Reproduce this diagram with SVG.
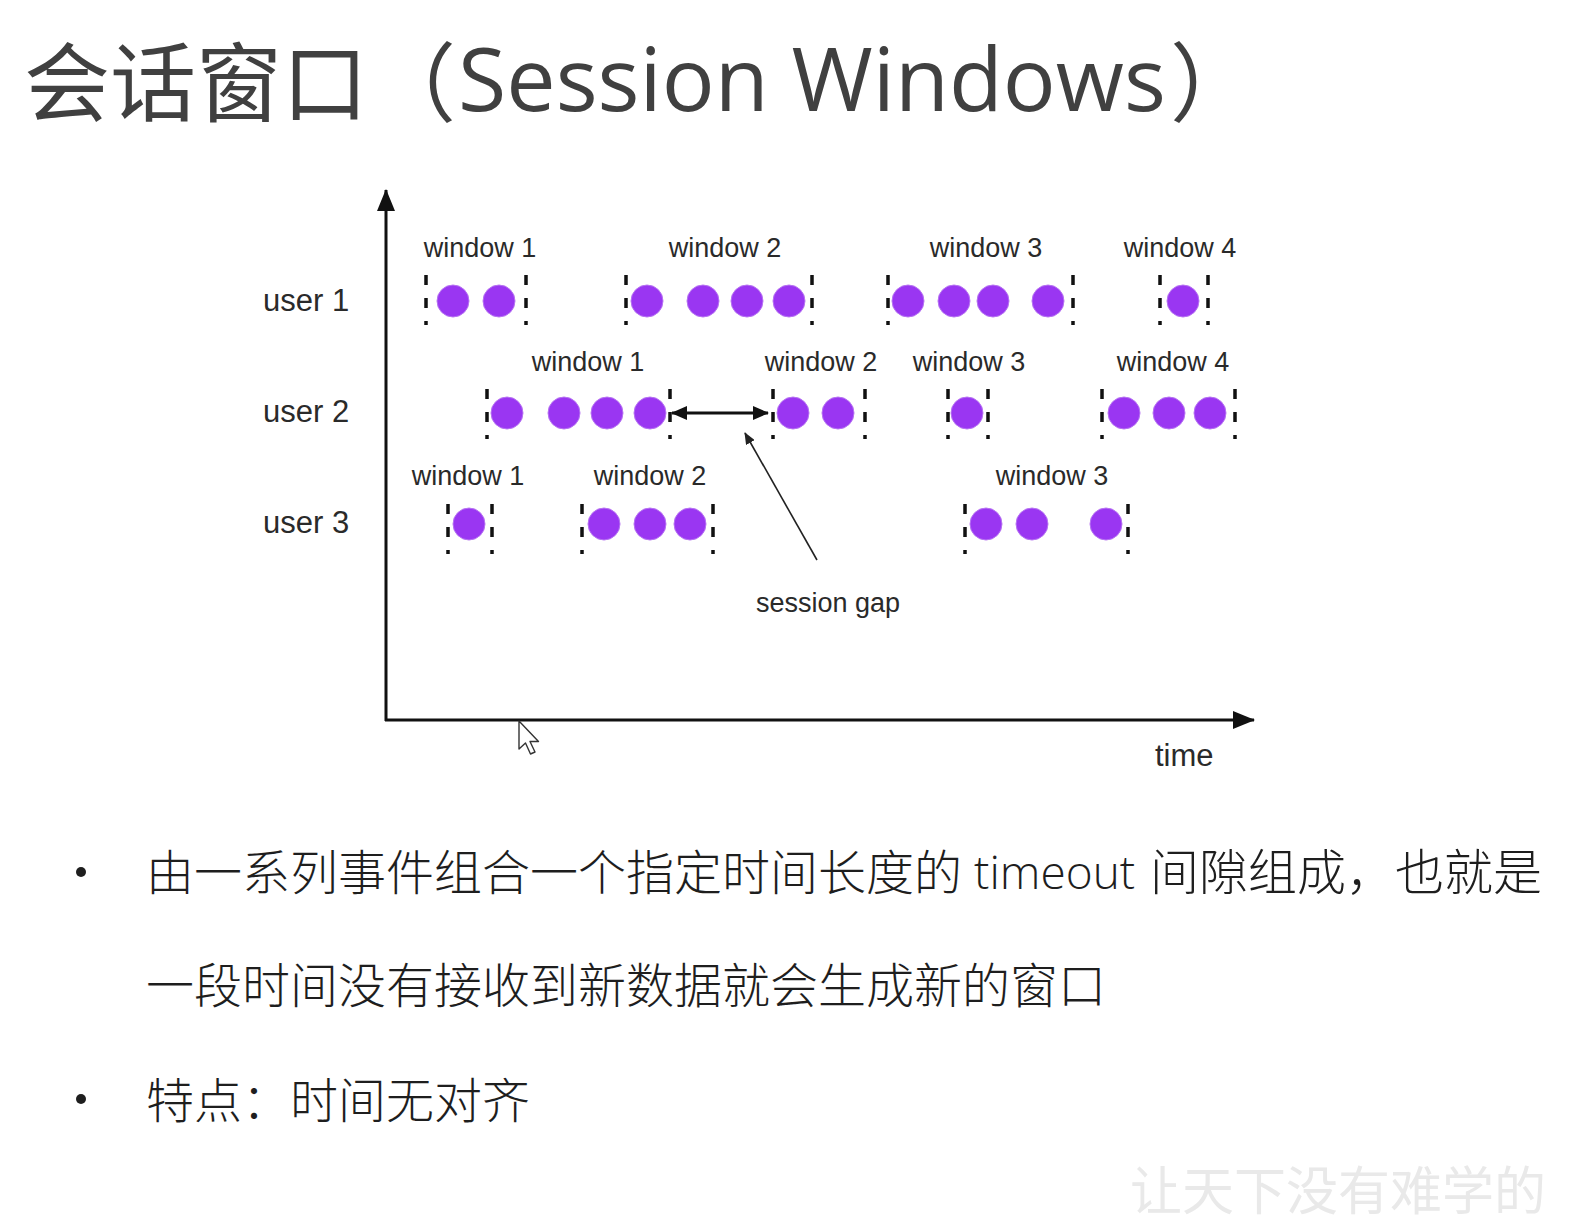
<svg xmlns="http://www.w3.org/2000/svg" width="1596" height="1224" viewBox="0 0 1596 1224">
  <defs>
    <style>
      .title { font-family: "Open Sans", "Noto Sans CJK SC", sans-serif; font-size: 88px; fill: #404040; }
      .title-cjk { font-family: "Noto Sans CJK SC", sans-serif; font-size: 86px; fill: #404040; }
      .user { font-family: "Liberation Sans", Arial, sans-serif; font-size: 31px; fill: #2a2a2a; }
      .win { font-family: "Liberation Sans", Arial, sans-serif; font-size: 27px; fill: #2a2a2a; text-anchor: middle; }
      .note { font-family: "Liberation Sans", Arial, sans-serif; font-size: 27px; fill: #2a2a2a; }
      .body { font-family: "Noto Sans CJK SC", sans-serif; font-size: 48px; font-weight: 300; fill: #1e1e1e; }
      .latin { font-family: "Open Sans", "Noto Sans CJK SC", sans-serif; font-weight: 300; font-size: 46px; }
      .ev { fill: #9a36f2; stroke: #b774f2; stroke-width: 1; }
      .edge { stroke: #111; stroke-width: 3.5; stroke-dasharray: 10 13; fill: none; }
      .axis { stroke: #111; stroke-width: 3; fill: none; }
      .mark { font-family: "Noto Sans CJK SC", sans-serif; font-size: 52px; fill: #e9e9e9; }
    </style>
    <marker id="head" viewBox="0 0 22 18" refX="21" refY="9" markerWidth="22" markerHeight="18" markerUnits="userSpaceOnUse" orient="auto-start-reverse">
      <path d="M0,0 L22,9 L0,18 Z" fill="#111"/>
    </marker>
    <marker id="gap" viewBox="0 0 16 14" refX="15" refY="7" markerWidth="16" markerHeight="14" markerUnits="userSpaceOnUse" orient="auto-start-reverse">
      <path d="M0,0 L16,7 L0,14 Z" fill="#111"/>
    </marker>
    <marker id="tip" viewBox="0 0 12 10" refX="11" refY="5" markerWidth="12" markerHeight="10" markerUnits="userSpaceOnUse" orient="auto">
      <path d="M0,0 L12,5 L0,10 Z" fill="#222"/>
    </marker>
  </defs>

  <rect width="1596" height="1224" fill="#ffffff"/>

  <!-- heading -->
  <g id="heading">
    <text class="title-cjk" x="24" y="115">会话窗口</text>
    <text class="title-cjk" x="370" y="115">（</text>
    <text class="title" x="458" y="111">Session Windows</text>
    <text class="title-cjk" x="1170" y="115">）</text>
  </g>

  <!-- connectors: axes, gap arrow, pointer -->
  <g id="connectors">
    <line class="axis" x1="386" y1="721" x2="386" y2="190" marker-end="url(#head)"/>
    <line class="axis" x1="385" y1="720" x2="1254" y2="720" marker-end="url(#head)"/>
    <line x1="672" y1="413" x2="768" y2="413" stroke="#111" stroke-width="3" marker-start="url(#gap)" marker-end="url(#gap)"/>
    <line x1="817" y1="560" x2="745" y2="433" stroke="#222" stroke-width="1.6" marker-end="url(#tip)"/>
  </g>

  <g id="axis-labels">
    <text class="note" x="1155" y="766" style="font-size:31px">time</text>
    <text class="note" x="756" y="612">session gap</text>
  </g>

  <!-- user 1 -->
  <g id="user1">
    <text class="user" x="263" y="311">user 1</text>
    <g id="u1-w1">
      <text class="win" x="480" y="257">window 1</text>
      <line class="edge" x1="426" y1="275" x2="426" y2="325"/>
      <line class="edge" x1="526" y1="275" x2="526" y2="325"/>
      <circle class="ev" cx="453" cy="301" r="16"/>
      <circle class="ev" cx="499" cy="301" r="16"/>
    </g>
    <g id="u1-w2">
      <text class="win" x="725" y="257">window 2</text>
      <line class="edge" x1="626" y1="275" x2="626" y2="325"/>
      <line class="edge" x1="812" y1="275" x2="812" y2="325"/>
      <circle class="ev" cx="647" cy="301" r="16"/>
      <circle class="ev" cx="703" cy="301" r="16"/>
      <circle class="ev" cx="747" cy="301" r="16"/>
      <circle class="ev" cx="789" cy="301" r="16"/>
    </g>
    <g id="u1-w3">
      <text class="win" x="986" y="257">window 3</text>
      <line class="edge" x1="888" y1="275" x2="888" y2="325"/>
      <line class="edge" x1="1073" y1="275" x2="1073" y2="325"/>
      <circle class="ev" cx="908" cy="301" r="16"/>
      <circle class="ev" cx="954" cy="301" r="16"/>
      <circle class="ev" cx="993" cy="301" r="16"/>
      <circle class="ev" cx="1048" cy="301" r="16"/>
    </g>
    <g id="u1-w4">
      <text class="win" x="1180" y="257">window 4</text>
      <line class="edge" x1="1160" y1="275" x2="1160" y2="325"/>
      <line class="edge" x1="1208" y1="275" x2="1208" y2="325"/>
      <circle class="ev" cx="1183" cy="301" r="16"/>
    </g>
  </g>

  <!-- user 2 -->
  <g id="user2">
    <text class="user" x="263" y="422">user 2</text>
    <g id="u2-w1">
      <text class="win" x="588" y="371">window 1</text>
      <line class="edge" x1="487" y1="389" x2="487" y2="439"/>
      <line class="edge" x1="670" y1="389" x2="670" y2="439"/>
      <circle class="ev" cx="507" cy="413" r="16"/>
      <circle class="ev" cx="564" cy="413" r="16"/>
      <circle class="ev" cx="607" cy="413" r="16"/>
      <circle class="ev" cx="650" cy="413" r="16"/>
    </g>
    <g id="u2-w2">
      <text class="win" x="821" y="371">window 2</text>
      <line class="edge" x1="773" y1="389" x2="773" y2="439"/>
      <line class="edge" x1="865" y1="389" x2="865" y2="439"/>
      <circle class="ev" cx="793" cy="413" r="16"/>
      <circle class="ev" cx="838" cy="413" r="16"/>
    </g>
    <g id="u2-w3">
      <text class="win" x="969" y="371">window 3</text>
      <line class="edge" x1="948" y1="389" x2="948" y2="439"/>
      <line class="edge" x1="988" y1="389" x2="988" y2="439"/>
      <circle class="ev" cx="967" cy="413" r="16"/>
    </g>
    <g id="u2-w4">
      <text class="win" x="1173" y="371">window 4</text>
      <line class="edge" x1="1102" y1="389" x2="1102" y2="439"/>
      <line class="edge" x1="1235" y1="389" x2="1235" y2="439"/>
      <circle class="ev" cx="1124" cy="413" r="16"/>
      <circle class="ev" cx="1169" cy="413" r="16"/>
      <circle class="ev" cx="1210" cy="413" r="16"/>
    </g>
  </g>

  <!-- user 3 -->
  <g id="user3">
    <text class="user" x="263" y="533">user 3</text>
    <g id="u3-w1">
      <text class="win" x="468" y="485">window 1</text>
      <line class="edge" x1="448" y1="504" x2="448" y2="554"/>
      <line class="edge" x1="492" y1="504" x2="492" y2="554"/>
      <circle class="ev" cx="469" cy="524" r="16"/>
    </g>
    <g id="u3-w2">
      <text class="win" x="650" y="485">window 2</text>
      <line class="edge" x1="582" y1="504" x2="582" y2="554"/>
      <line class="edge" x1="713" y1="504" x2="713" y2="554"/>
      <circle class="ev" cx="604" cy="524" r="16"/>
      <circle class="ev" cx="650" cy="524" r="16"/>
      <circle class="ev" cx="690" cy="524" r="16"/>
    </g>
    <g id="u3-w3">
      <text class="win" x="1052" y="485">window 3</text>
      <line class="edge" x1="965" y1="504" x2="965" y2="554"/>
      <line class="edge" x1="1128" y1="504" x2="1128" y2="554"/>
      <circle class="ev" cx="986" cy="524" r="16"/>
      <circle class="ev" cx="1032" cy="524" r="16"/>
      <circle class="ev" cx="1106" cy="524" r="16"/>
    </g>
  </g>

  <!-- pointer cursor -->
  <path d="M519,721 L519,749 L525.5,743 L530.5,754 L535,752 L530,741.5 L538.5,741.5 Z" fill="#ffffff" stroke="#333" stroke-width="1.4" stroke-linejoin="round"/>

  <!-- bullet notes -->
  <g id="notes">
    <circle cx="81" cy="872" r="5" fill="#1e1e1e"/>
    <text class="body" y="890"><tspan x="146">由一系列事件组合一个指定时间长度的</tspan><tspan class="latin" x="974" y="889">timeout</tspan><tspan x="1150" y="890" style="font-size:49px">间隙组成，也就是</tspan></text>
    <text class="body" x="146" y="1003">一段时间没有接收到新数据就会生成新的窗口</text>
    <circle cx="81" cy="1099" r="5" fill="#1e1e1e"/>
    <text class="body" x="146" y="1118">特点：时间无对齐</text>
  </g>

  <text class="mark" x="1130" y="1210">让天下没有难学的</text>
</svg>
